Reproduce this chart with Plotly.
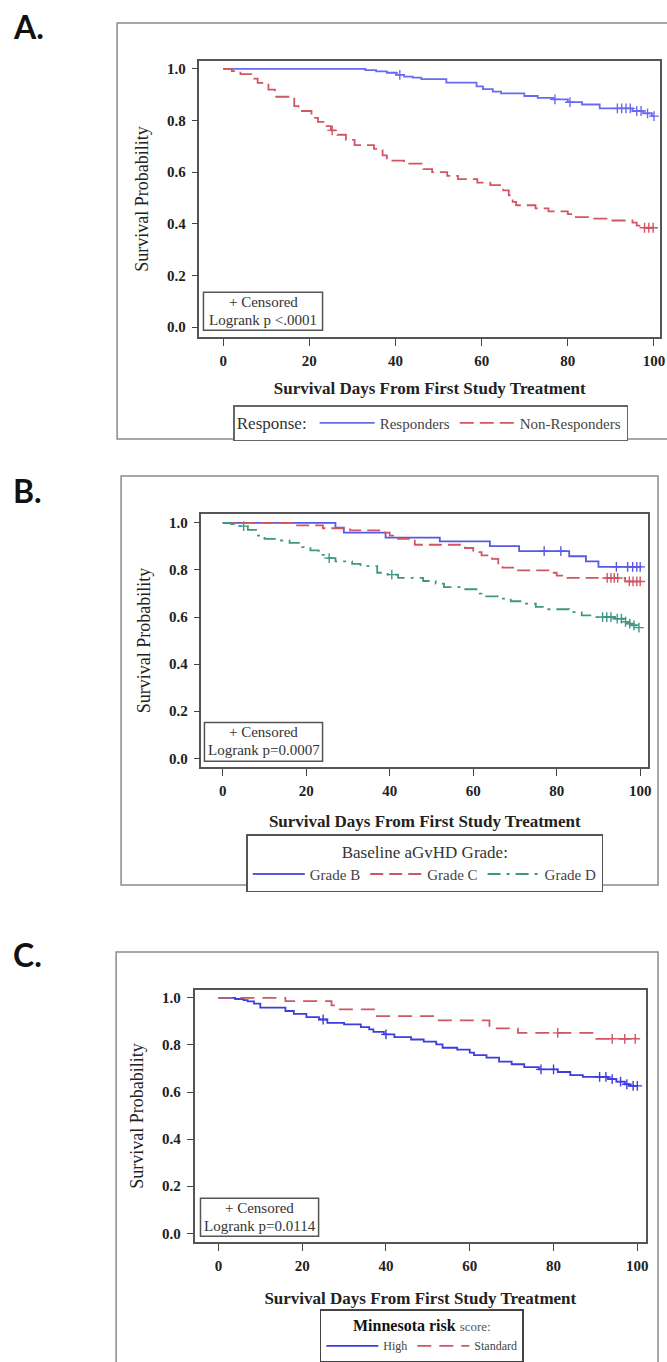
import plotly.graph_objects as go

W, H = 667, 1362

# ---------------- Panel A data ----------------
a_resp_t = [0, 33, 35.5, 38, 40.3, 42, 44, 46, 51.8, 58.8, 60.3, 62.6, 64.5, 69.9, 73, 76.6, 80, 83.3, 87.4, 95, 97.5, 99.5, 100]
a_resp_s = [1.0, 0.995, 0.99, 0.985, 0.977, 0.970, 0.966, 0.960, 0.947, 0.932, 0.922, 0.912, 0.905, 0.895, 0.888, 0.882, 0.871, 0.862, 0.847, 0.837, 0.828, 0.817, 0.817]
a_resp_ct = [41, 77, 80.5, 91.5, 92.5, 93.5, 94.5, 96, 97, 98.5, 100]
a_resp_cs = [0.977, 0.882, 0.871, 0.847, 0.847, 0.847, 0.847, 0.837, 0.837, 0.828, 0.817]

a_non_t = [0, 2, 4, 6.5, 8, 10.5, 12, 16.5, 17.5, 20.5, 22, 23.5, 25, 26.5, 28.5, 30.5, 35, 37, 38, 42, 46.5, 48.5, 52, 54.5, 59, 62, 65, 66.3, 67.2, 68, 72.5, 75.5, 80, 81.5, 85, 90, 95, 96, 97, 100]
a_non_s = [1.0, 0.991, 0.980, 0.962, 0.946, 0.920, 0.892, 0.856, 0.837, 0.810, 0.795, 0.778, 0.762, 0.745, 0.725, 0.705, 0.690, 0.665, 0.645, 0.633, 0.612, 0.600, 0.586, 0.573, 0.560, 0.550, 0.530, 0.510, 0.485, 0.472, 0.460, 0.448, 0.438, 0.426, 0.420, 0.413, 0.405, 0.393, 0.385, 0.385]
a_non_ct = [25.3, 97.8, 98.8, 99.8]
a_non_cs = [0.762, 0.385, 0.385, 0.385]

# ---------------- Panel B data ----------------
b_gb_t = [0, 27, 29, 39, 52, 64, 71, 83, 87, 90, 100]
b_gb_s = [1.0, 0.979, 0.958, 0.937, 0.921, 0.901, 0.880, 0.858, 0.836, 0.813, 0.813]
b_gb_ct = [77, 81, 94.3, 97, 98.2, 99.2, 100]
b_gb_cs = [0.880, 0.880, 0.813, 0.813, 0.813, 0.813, 0.813]

b_gc_t = [0, 17, 24, 30.5, 38, 40, 42, 46, 58, 60, 62, 64.5, 66, 67, 70, 78, 80, 82, 96.4, 100]
b_gc_s = [1.0, 0.989, 0.977, 0.968, 0.958, 0.946, 0.932, 0.907, 0.893, 0.876, 0.862, 0.847, 0.822, 0.810, 0.798, 0.788, 0.776, 0.766, 0.751, 0.751]
b_gc_ct = [92.1, 93, 93.8, 94.6, 97.4, 98.3, 99.2, 100]
b_gc_cs = [0.766, 0.766, 0.766, 0.766, 0.751, 0.751, 0.751, 0.751]

b_gd_t = [0, 2, 4, 6, 8, 10, 13, 16, 19, 21, 23, 24.5, 27, 31, 33, 37, 39.5, 42, 48, 51, 53, 57, 61, 62, 66, 69, 72, 75, 78, 83, 86, 89, 94, 96, 97, 98, 99.5, 100]
b_gd_s = [1.0, 0.995, 0.986, 0.970, 0.946, 0.932, 0.925, 0.915, 0.897, 0.883, 0.864, 0.850, 0.836, 0.826, 0.816, 0.788, 0.780, 0.766, 0.753, 0.742, 0.727, 0.718, 0.699, 0.688, 0.678, 0.667, 0.657, 0.643, 0.633, 0.621, 0.607, 0.600, 0.593, 0.580, 0.572, 0.565, 0.555, 0.555]
b_gd_ct = [5, 25.5, 40.5, 91, 92, 93, 94.5, 95.5, 96.5, 97.5, 98.5, 99.7]
b_gd_cs = [0.986, 0.850, 0.780, 0.600, 0.600, 0.600, 0.593, 0.593, 0.580, 0.572, 0.565, 0.555]

# ---------------- Panel C data ----------------
c_high_t = [0, 4, 6, 7, 8.5, 10, 16, 18, 21, 24, 26, 30, 34, 36, 37, 39.5, 42, 46, 49, 52, 53.5, 57, 60, 61, 64, 67, 70, 73, 76.5, 81, 84, 87, 93, 95, 97, 98, 100]
c_high_s = [1.0, 0.995, 0.990, 0.985, 0.975, 0.958, 0.944, 0.932, 0.918, 0.908, 0.894, 0.887, 0.876, 0.866, 0.855, 0.845, 0.833, 0.823, 0.814, 0.802, 0.788, 0.780, 0.767, 0.757, 0.746, 0.729, 0.718, 0.706, 0.696, 0.685, 0.672, 0.664, 0.655, 0.644, 0.633, 0.626, 0.626]
c_high_ct = [25, 40, 77, 80, 91, 92.5, 94, 96, 97.5, 99, 100]
c_high_cs = [0.908, 0.845, 0.696, 0.696, 0.664, 0.664, 0.655, 0.644, 0.633, 0.626, 0.626]

c_std_t = [0, 16, 27, 28.5, 37.5, 51.8, 64.7, 71.5, 90, 100]
c_std_s = [1.0, 0.986, 0.968, 0.951, 0.922, 0.904, 0.870, 0.851, 0.826, 0.826]
c_std_ct = [81, 94, 97, 99.5]
c_std_cs = [0.851, 0.826, 0.826, 0.826]

x_ticks = [0, 20, 40, 60, 80, 100]
y_ticks = [0.0, 0.2, 0.4, 0.6, 0.8, 1.0]

BLUE_A = "#6a6aee"
BLUE_B = "#5858e6"
BLUE_C = "#3c3ce0"
RED = "#d05664"
TEAL = "#3e9785"
SERIF = "Liberation Serif"


def px(v):
    return v / W


def py(v):
    return 1 - v / H


fig = go.Figure()


def add_km(t, s, ct, cs, color, dash, name, xa, ya, legend):
    fig.add_trace(go.Scatter(
        x=t, y=s, mode="lines", line=dict(color=color, width=1.8, dash=dash, shape="hv"),
        name=name, xaxis=xa, yaxis=ya, legend=legend, hoverinfo="skip"))
    fig.add_trace(go.Scatter(
        x=ct, y=cs, mode="markers",
        marker=dict(symbol="cross-thin", size=7, line=dict(color=color, width=1.4), color=color),
        showlegend=False, xaxis=xa, yaxis=ya, hoverinfo="skip"))


add_km(a_resp_t, a_resp_s, a_resp_ct, a_resp_cs, BLUE_A, "solid", "Responders", "x", "y", "legend")
add_km(a_non_t, a_non_s, a_non_ct, a_non_cs, RED, "14px,6px", "Non-Responders", "x", "y", "legend")

add_km(b_gb_t, b_gb_s, b_gb_ct, b_gb_cs, BLUE_B, "solid", "Grade B", "x2", "y2", "legend2")
add_km(b_gc_t, b_gc_s, b_gc_ct, b_gc_cs, RED, "13px,6px", "Grade C", "x2", "y2", "legend2")
add_km(b_gd_t, b_gd_s, b_gd_ct, b_gd_cs, TEAL, "13px,6px,3px,6px", "Grade D", "x2", "y2", "legend2")

add_km(c_high_t, c_high_s, c_high_ct, c_high_cs, BLUE_C, "solid", "High", "x3", "y3", "legend3")
add_km(c_std_t, c_std_s, c_std_ct, c_std_cs, RED, "14px,8px", "Standard", "x3", "y3", "legend3")

tickfont = dict(family=SERIF, size=15, color="#222", weight="bold")
ytitle = dict(text="Survival Probability", font=dict(family=SERIF, size=18, color="#222"), standoff=14)


def xtitle(standoff):
    return dict(text="Survival Days From First Study Treatment",
                font=dict(family=SERIF, size=17, color="#222", weight="bold"), standoff=standoff)


def xax(dom, rng, standoff):
    return dict(domain=[px(dom[0]), px(dom[1])], range=rng, tickvals=x_ticks, ticks="outside",
                ticklen=7, tickcolor="#444", tickwidth=1.2, showline=True, mirror=True,
                linecolor="#555", linewidth=1.5, showgrid=False, zeroline=False,
                tickfont=tickfont, title=xtitle(standoff), fixedrange=True,
                ticklabeloverflow="allow", ticklabelstandoff=2)


def yax(dom, rng, anchor):
    return dict(domain=[py(dom[1]), py(dom[0])], range=rng, tickvals=y_ticks, tickformat=".1f",
                ticks="outside", ticklen=6, tickcolor="#444", tickwidth=1.2, showline=True,
                mirror=True, linecolor="#555", linewidth=1.5, showgrid=False, zeroline=False,
                tickfont=tickfont, title=ytitle, anchor=anchor, fixedrange=True,
                ticklabelstandoff=3)


fig.update_layout(
    width=W, height=H, margin=dict(l=0, r=0, t=0, b=0),
    paper_bgcolor="white", plot_bgcolor="white",
    xaxis=dict(xax([201, 665], [-5.5, 101.4], 14), anchor="y"),
    yaxis=yax([61, 338], [-0.039, 1.031], "x"),
    xaxis2=dict(xax([203, 653], [-5.1, 101.9], 17), anchor="y2"),
    yaxis2=yax([515, 769], [-0.038, 1.038], "x2"),
    xaxis3=dict(xax([196, 651], [-5.7, 102.1], 19), anchor="y3"),
    yaxis3=yax([992, 1245], [-0.038, 1.034], "x3"),
    legend=dict(orientation="h", x=px(434), xanchor="center", y=py(406), yanchor="top",
                title=dict(text="Response:", side="left", font=dict(family=SERIF, size=17, color="#333")),
                font=dict(family=SERIF, size=15, color="#444"), bordercolor="#666", borderwidth=1.5,
                bgcolor="white", itemwidth=55),
    legend2=dict(orientation="h", x=px(428), xanchor="center", y=py(836), yanchor="top",
                 title=dict(text="Baseline aGvHD Grade:", side="top center",
                            font=dict(family=SERIF, size=17, color="#333")),
                 font=dict(family=SERIF, size=15, color="#444"), bordercolor="#555", borderwidth=1.5,
                 bgcolor="white", itemwidth=52),
    legend3=dict(orientation="h", x=px(425), xanchor="center", y=py(1312), yanchor="top",
                 title=dict(text="<b>Minnesota risk</b> <span style='font-size:13px;color:#555'>score:</span>",
                            side="top center", font=dict(family=SERIF, size=16, color="#111")),
                 font=dict(family=SERIF, size=12, color="#444"), bordercolor="#444", borderwidth=1.5,
                 bgcolor="white", itemwidth=52),
)

shapes = []
# outer panel frames
for (x0, y0, x1, y1) in [(118, 23, 690, 440), (122, 477, 663, 887), (117, 954, 663, 1380)]:
    shapes.append(dict(type="rect", xref="paper", yref="paper", x0=px(x0), x1=px(x1),
                       y0=py(y1), y1=py(y0), line=dict(color="#8a8a8a", width=1.5), layer="below"))
# inset (censored / logrank) boxes
insets = [((205, 293, 325, 331), "Logrank p <.0001"),
          ((206, 724, 325, 763), "Logrank p=0.0007"),
          ((202, 1201, 321, 1239), "Logrank p=0.0114")]
annotations = []
for (x0, y0, x1, y1), txt in insets:
    shapes.append(dict(type="rect", xref="paper", yref="paper", x0=px(x0), x1=px(x1),
                       y0=py(y1), y1=py(y0), line=dict(color="#555", width=1.5),
                       fillcolor="white", layer="above"))
    cx = (x0 + x1) / 2
    annotations.append(dict(xref="paper", yref="paper", x=px(cx), y=py(y0 + 10), text="+ Censored",
                            showarrow=False, xanchor="center", yanchor="middle",
                            font=dict(family=SERIF, size=15, color="#333")))
    annotations.append(dict(xref="paper", yref="paper", x=px(cx), y=py(y0 + 28), text=txt,
                            showarrow=False, xanchor="center", yanchor="middle",
                            font=dict(family=SERIF, size=15, color="#333")))

for lab, yc in [("A.", 27), ("B.", 492), ("C.", 957)]:
    annotations.append(dict(xref="paper", yref="paper", x=px(11), y=py(yc), text=lab,
                            showarrow=False, xanchor="left", yanchor="middle",
                            font=dict(family="Lato", size=32, color="#111", weight="bold")))

fig.update_layout(shapes=shapes, annotations=annotations)

fig.write_html("out.html", config={"displayModeBar": False},
               post_script="document.body.style.margin='0';document.body.style.overflow='hidden';")
